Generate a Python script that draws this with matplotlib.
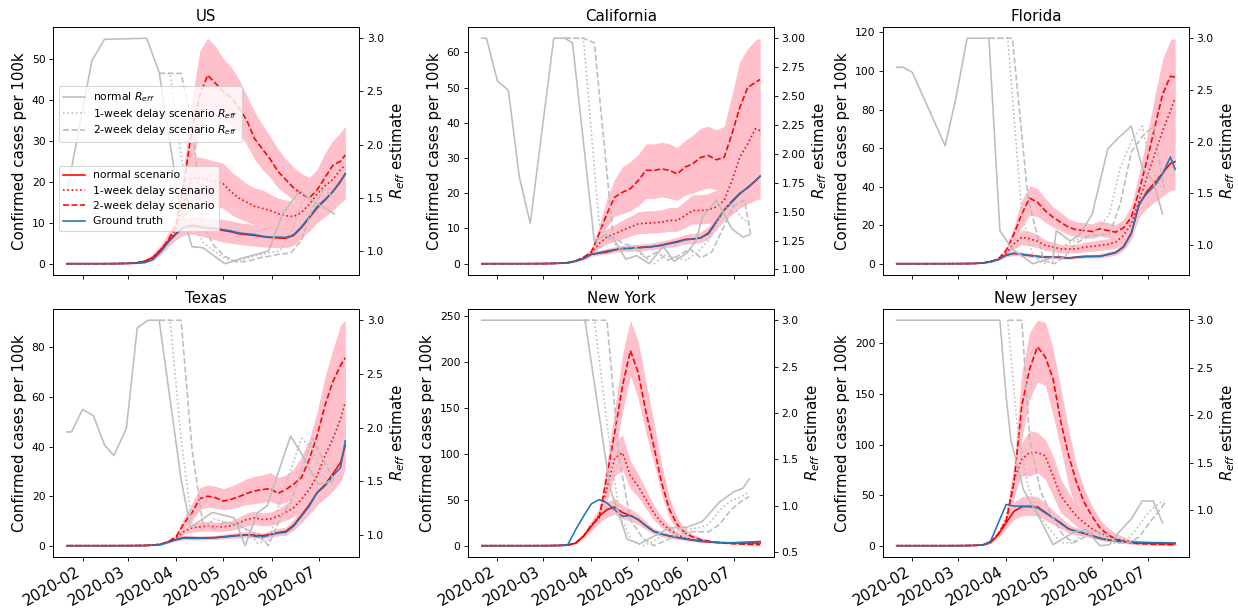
import numpy as np
import matplotlib
matplotlib.use('Agg')
import matplotlib.pyplot as plt
import matplotlib.dates as mdates

START = np.datetime64('2020-01-22')
DAYS = [0, 20, 30, 40, 45, 50, 55, 60, 65, 70, 75, 80, 85, 90, 95, 100, 105, 110,
        115, 120, 125, 130, 135, 140, 145, 150, 155, 160, 165, 170, 175, 178]

STATES = ['US', 'California', 'Florida', 'Texas', 'New York', 'New Jersey']

# ---------------- US ----------------
US_truth = [0, 0, 0.01, 0.05, 0.1, 0.3, 1.0, 2.9, 5.3, 7.3, 9.0, 9.4, 9.1, 8.8, 8.7, 8.3, 8.0, 7.5, 7.3, 7.1, 6.7, 6.5, 6.5, 6.4, 7.1, 9.0, 11.4, 13.9, 15.7, 17.5, 20.0, 22.0]
US_normal = [0, 0, 0.02, 0.1, 0.25, 0.6, 1.5, 3.4, 5.6, 7.5, 8.9, 9.2, 8.9, 8.6, 8.5, 8.1, 7.8, 7.3, 7.1, 6.9, 6.6, 6.4, 6.3, 6.2, 6.9, 8.8, 11.2, 13.6, 15.5, 17.6, 20.2, 21.9]
US_w1 = [0, 0, 0.02, 0.1, 0.25, 0.6, 1.5, 3.4, 5.7, 8.6, 15.0, 21.0, 21.0, 20.5, 20.0, 19.5, 17.5, 16.0, 15.0, 14.0, 13.5, 13.0, 12.2, 11.7, 11.5, 12.5, 14.5, 17.0, 19.0, 20.5, 23.0, 24.0]
US_w2 = [0, 0, 0.02, 0.1, 0.25, 0.6, 1.5, 3.4, 5.9, 9.5, 20.0, 33.0, 41.0, 46.0, 44.0, 42.0, 40.5, 38.0, 35.0, 30.5, 28.0, 25.5, 22.5, 20.5, 18.5, 17.0, 16.0, 18.0, 21.0, 24.0, 25.0, 26.5]
US_n_lo = [0, 0, 0, 0.05, 0.1, 0.2, 0.8, 2.3, 4.3, 5.9, 7.0, 7.2, 6.8, 6.3, 5.8, 5.3, 5.0, 4.7, 4.5, 4.3, 4.1, 4.0, 3.9, 3.9, 4.5, 6.2, 8.0, 10.0, 11.5, 13.0, 14.8, 15.8]
US_n_hi = [0, 0, 0.05, 0.15, 0.4, 1.0, 2.3, 4.6, 7.0, 9.2, 11.0, 11.6, 11.4, 11.2, 11.0, 10.8, 10.5, 10.0, 9.8, 9.5, 9.2, 9.0, 9.0, 9.0, 9.8, 12.0, 15.0, 18.0, 20.5, 23.0, 26.0, 28.0]
US_w1_lo = [0, 0, 0, 0.05, 0.1, 0.2, 0.8, 2.3, 4.3, 6.5, 11.0, 15.0, 15.0, 14.5, 14.0, 13.5, 12.0, 11.0, 10.2, 9.5, 9.2, 8.8, 8.3, 8.0, 8.0, 8.8, 10.5, 12.5, 14.0, 15.5, 17.0, 18.0]
US_w1_hi = [0, 0, 0.05, 0.15, 0.4, 1.0, 2.3, 4.6, 7.0, 10.5, 19.0, 26.0, 26.0, 25.5, 25.0, 24.5, 22.5, 21.0, 19.5, 18.5, 18.0, 17.0, 16.0, 15.5, 15.3, 16.5, 19.0, 22.0, 24.5, 26.5, 29.5, 31.0]
US_w2_lo = [0, 0, 0, 0.05, 0.1, 0.2, 0.8, 2.3, 4.3, 7.5, 15.0, 25.0, 32.0, 37.0, 36.0, 35.0, 34.0, 32.0, 29.0, 25.5, 23.0, 21.0, 18.5, 17.0, 15.5, 14.3, 13.5, 15.0, 17.5, 19.5, 20.5, 21.5]
US_w2_hi = [0, 0, 0.05, 0.15, 0.4, 1.0, 2.3, 4.6, 7.5, 12.0, 24.0, 40.0, 52.0, 55.0, 53.0, 50.0, 48.0, 45.0, 41.0, 37.0, 34.0, 31.0, 28.0, 25.5, 23.5, 22.0, 21.0, 23.0, 27.0, 30.0, 32.0, 33.5]
US_r0_day = [0, 16, 24, 51, 59, 72, 80, 87, 101, 114, 129, 138, 149, 156, 171]
US_r0 = [1.55, 2.79, 2.99, 3.0, 2.68, 1.44, 1.04, 1.03, 0.88, 0.94, 1.0, 1.35, 1.57, 1.48, 1.35]
US_r1_day = [59, 66, 73, 80, 87, 94, 101, 108, 115, 122, 129, 136, 143, 150, 157, 164, 171]
US_r1 = [2.67, 2.67, 1.9, 1.3, 1.08, 1.0, 0.93, 0.9, 0.93, 0.96, 0.98, 1.0, 1.15, 1.45, 1.56, 1.52, 1.42]
US_r2_day = [59, 73, 80, 87, 94, 101, 108, 115, 122, 129, 136, 143, 150, 157, 164, 171]
US_r2 = [2.67, 2.67, 2.2, 1.25, 1.05, 0.95, 0.9, 0.9, 0.93, 0.95, 0.97, 0.98, 1.1, 1.4, 1.58, 1.5]

# ---------------- California ----------------
CA_truth = [0, 0, 0, 0.02, 0.05, 0.1, 0.2, 0.7, 1.4, 2.6, 3.1, 3.6, 4.0, 4.3, 4.3, 4.5, 4.7, 4.9, 5.2, 5.7, 6.1, 6.8, 7.0, 7.4, 8.5, 11.8, 15.1, 17.5, 19.8, 21.7, 23.6, 24.8]
CA_normal = [0, 0, 0.01, 0.04, 0.08, 0.15, 0.3, 0.8, 1.6, 2.7, 3.0, 3.3, 3.9, 4.3, 4.4, 4.6, 4.7, 4.9, 5.3, 5.8, 6.3, 6.9, 7.0, 7.3, 8.8, 12.0, 15.3, 17.8, 20.0, 21.5, 23.5, 24.9]
CA_w1 = [0, 0, 0.01, 0.04, 0.08, 0.15, 0.3, 0.8, 1.7, 3.0, 5.7, 7.6, 8.5, 9.5, 10.4, 11.3, 11.5, 11.6, 11.8, 12.3, 12.3, 13.7, 15.1, 15.1, 15.3, 16.1, 18.0, 23.6, 30.2, 34.0, 38.3, 37.8]
CA_w2 = [0, 0, 0.01, 0.04, 0.08, 0.15, 0.3, 0.8, 1.8, 3.3, 8.5, 14.2, 18.9, 20.3, 21.3, 23.6, 26.5, 26.5, 26.9, 26.5, 25.5, 27.4, 28.4, 30.2, 30.7, 29.5, 30.2, 36.9, 44.4, 50.0, 51.5, 52.3]
CA_n_lo = [0, 0, 0, 0.01, 0.03, 0.07, 0.15, 0.5, 1.1, 2.1, 2.5, 2.8, 3.2, 3.5, 3.5, 3.7, 3.8, 4.0, 4.3, 4.7, 5.0, 5.6, 5.7, 6.0, 7.0, 9.6, 12.2, 14.0, 15.8, 17.0, 18.0, 18.5]
CA_n_hi = [0, 0, 0.02, 0.06, 0.12, 0.2, 0.4, 1.0, 1.9, 3.2, 3.8, 4.3, 4.8, 5.2, 5.3, 5.5, 5.7, 6.0, 6.4, 7.0, 7.5, 8.3, 8.6, 9.0, 10.6, 14.2, 18.5, 21.5, 24.5, 27.0, 30.0, 32.0]
CA_w1_lo = [0, 0, 0, 0.01, 0.03, 0.07, 0.15, 0.5, 1.1, 2.3, 4.3, 5.7, 6.4, 7.1, 7.8, 8.5, 8.6, 8.7, 8.9, 9.2, 9.2, 10.3, 11.3, 11.3, 11.5, 12.1, 13.5, 17.7, 22.6, 25.5, 28.7, 28.4]
CA_w1_hi = [0, 0, 0.02, 0.06, 0.12, 0.2, 0.4, 1.0, 1.9, 3.8, 7.4, 9.9, 11.1, 12.4, 13.5, 14.7, 15.0, 15.1, 15.3, 16.0, 16.0, 17.8, 19.6, 19.6, 19.9, 20.9, 23.4, 30.7, 39.3, 44.2, 49.8, 49.1]
CA_w2_lo = [0, 0, 0, 0.01, 0.03, 0.07, 0.15, 0.5, 1.1, 2.5, 6.4, 10.4, 13.5, 14.2, 15.0, 16.5, 18.5, 18.5, 19.0, 18.5, 18.0, 19.5, 20.0, 21.0, 21.5, 21.0, 21.5, 26.0, 31.0, 35.0, 36.0, 36.5]
CA_w2_hi = [0, 0, 0.02, 0.06, 0.12, 0.2, 0.4, 1.0, 1.9, 4.2, 10.6, 18.5, 24.0, 27.5, 29.0, 31.0, 34.0, 34.0, 34.5, 34.0, 33.0, 35.0, 36.5, 38.5, 39.0, 38.0, 39.0, 48.0, 57.5, 61.0, 63.5, 64.0]
CA_r0_day = [0, 3, 10, 17, 24, 31, 46, 53, 58, 72, 79, 85, 92, 99, 107, 116, 123, 131, 137, 141, 150, 160, 167, 171]
CA_r0 = [3.0, 3.0, 2.63, 2.55, 1.80, 1.40, 3.0, 3.0, 2.96, 1.24, 1.30, 1.25, 1.09, 1.12, 1.05, 1.2, 1.07, 1.14, 1.25, 1.45, 1.6, 1.35, 1.28, 1.3]
CA_r1_day = [53, 65, 75, 82, 89, 96, 103, 110, 117, 124, 131, 138, 145, 152, 159, 166, 171]
CA_r1 = [3.0, 3.0, 1.4, 1.25, 1.18, 1.2, 1.12, 1.05, 1.12, 1.1, 1.08, 1.15, 1.25, 1.45, 1.58, 1.45, 1.4]
CA_r2_day = [53, 65, 72, 84, 91, 98, 105, 112, 119, 126, 133, 140, 147, 154, 161, 168, 172]
CA_r2 = [3.0, 3.0, 2.96, 1.28, 1.22, 1.2, 1.1, 1.15, 1.08, 1.12, 1.18, 1.1, 1.15, 1.35, 1.55, 1.6, 1.3]

# ---------------- Florida ----------------
FL_truth = [0, 0, 0, 0.02, 0.05, 0.1, 0.3, 0.9, 2.1, 4.3, 5.5, 4.8, 4.3, 3.8, 3.4, 3.4, 3.3, 2.9, 3.4, 3.8, 3.8, 3.8, 4.8, 5.7, 8.6, 15.5, 31.0, 36.5, 40.5, 46.5, 55.4, 49.0]
FL_normal = [0, 0, 0.01, 0.04, 0.08, 0.15, 0.4, 1.1, 2.3, 4.5, 5.3, 4.8, 4.3, 3.8, 3.5, 3.4, 3.3, 3.0, 3.4, 3.7, 3.8, 3.9, 4.8, 5.8, 8.8, 16.0, 30.5, 37.5, 42.0, 47.0, 52.0, 53.0]
FL_w1 = [0, 0, 0.01, 0.04, 0.08, 0.15, 0.4, 1.1, 2.4, 5.5, 10.3, 13.8, 12.9, 11.7, 9.5, 8.6, 7.7, 7.7, 7.7, 8.6, 9.0, 9.5, 10.0, 11.2, 14.6, 20.7, 32.7, 44.8, 56.8, 68.9, 79.2, 86.1]
FL_w2 = [0, 0, 0.01, 0.04, 0.08, 0.15, 0.4, 1.1, 2.5, 6.9, 15.5, 25.8, 34.0, 31.9, 27.5, 24.1, 21.5, 18.9, 17.6, 17.2, 16.7, 18.1, 17.2, 16.4, 18.6, 24.1, 37.9, 53.4, 70.6, 87.8, 97.3, 96.8]
FL_n_lo = [0, 0, 0, 0.01, 0.03, 0.07, 0.2, 0.7, 1.7, 3.5, 4.3, 3.8, 3.4, 3.0, 2.7, 2.6, 2.5, 2.3, 2.6, 2.9, 2.9, 3.0, 3.7, 4.5, 6.8, 12.5, 24.0, 29.0, 32.0, 35.0, 38.0, 38.5]
FL_n_hi = [0, 0, 0.02, 0.06, 0.12, 0.2, 0.5, 1.4, 2.9, 5.6, 6.6, 6.0, 5.4, 4.8, 4.4, 4.3, 4.2, 3.9, 4.3, 4.8, 4.9, 5.0, 6.2, 7.4, 11.0, 20.0, 38.0, 47.0, 53.0, 60.0, 67.0, 70.0]
FL_w1_lo = [0, 0, 0, 0.01, 0.03, 0.07, 0.2, 0.7, 1.7, 4.3, 7.8, 10.0, 9.3, 8.4, 6.9, 6.2, 5.6, 5.6, 5.6, 6.2, 6.5, 6.9, 7.2, 8.1, 10.5, 15.0, 24.0, 33.0, 42.0, 51.0, 58.5, 64.0]
FL_w1_hi = [0, 0, 0.02, 0.06, 0.12, 0.2, 0.5, 1.4, 2.9, 6.8, 13.0, 17.6, 16.8, 15.2, 12.4, 11.2, 10.0, 10.0, 10.0, 11.2, 11.7, 12.4, 13.0, 14.6, 19.0, 27.0, 42.5, 58.0, 74.0, 89.0, 102.0, 110.0]
FL_w2_lo = [0, 0, 0, 0.01, 0.03, 0.07, 0.2, 0.7, 1.7, 5.5, 12.0, 19.0, 25.0, 24.5, 21.5, 19.0, 17.0, 15.0, 14.0, 13.6, 13.2, 14.3, 13.6, 13.0, 14.8, 19.0, 30.0, 42.0, 55.0, 68.0, 76.0, 76.0]
FL_w2_hi = [0, 0, 0.02, 0.06, 0.12, 0.2, 0.5, 1.4, 2.9, 8.5, 19.5, 33.0, 40.5, 39.0, 34.0, 29.5, 26.5, 23.3, 21.8, 21.3, 20.7, 22.4, 21.3, 20.3, 23.0, 30.0, 47.0, 66.0, 87.0, 106.0, 116.0, 117.0]
FL_r0_day = [0, 4, 10, 31, 38, 45, 59, 66, 74, 87, 100, 102, 111, 117, 125, 135, 142, 150, 157, 164, 170]
FL_r0 = [2.72, 2.72, 2.67, 1.96, 2.43, 3.0, 3.0, 1.14, 0.96, 0.82, 0.88, 1.14, 1.04, 1.1, 1.3, 1.93, 2.04, 2.15, 1.75, 1.62, 1.3]
FL_r1_day = [59, 71, 80, 87, 94, 101, 108, 115, 122, 129, 136, 143, 150, 157, 164, 171]
FL_r1 = [3.0, 3.0, 1.3, 0.9, 0.82, 0.85, 1.0, 1.05, 1.08, 1.15, 1.3, 1.75, 2.0, 2.15, 1.7, 1.5]
FL_r2_day = [59, 74, 84, 94, 101, 108, 115, 122, 129, 136, 143, 150, 157, 164, 171]
FL_r2 = [3.0, 3.0, 1.45, 0.85, 0.82, 0.9, 1.02, 1.08, 1.1, 1.1, 1.4, 1.9, 2.05, 2.15, 1.55]

# ---------------- Texas ----------------
TX_truth = [0, 0, 0, 0.01, 0.03, 0.05, 0.15, 0.4, 1.4, 2.4, 3.1, 3.0, 3.0, 3.1, 3.2, 3.5, 3.8, 4.1, 4.3, 3.8, 3.5, 4.3, 5.1, 5.4, 7.9, 11.9, 16.0, 21.4, 24.1, 28.2, 31.5, 42.4]
TX_normal = [0, 0, 0.01, 0.03, 0.06, 0.1, 0.25, 0.6, 1.6, 2.6, 3.3, 3.2, 3.1, 3.2, 3.3, 3.6, 3.9, 4.2, 4.4, 4.3, 4.0, 4.6, 5.3, 5.8, 8.3, 12.3, 16.5, 21.5, 24.5, 29.0, 33.5, 40.5]
TX_w1 = [0, 0, 0.01, 0.03, 0.06, 0.1, 0.25, 0.6, 1.6, 3.3, 5.8, 7.2, 7.6, 7.9, 7.6, 7.6, 8.1, 9.2, 10.6, 11.2, 10.6, 10.8, 11.9, 13.5, 15.3, 18.7, 22.7, 28.2, 36.3, 43.0, 51.2, 57.9]
TX_w2 = [0, 0, 0.01, 0.03, 0.06, 0.1, 0.25, 0.6, 1.7, 3.8, 9.2, 13.3, 19.0, 20.0, 19.4, 18.0, 18.7, 19.8, 21.1, 22.1, 22.7, 23.0, 21.1, 22.7, 24.8, 27.5, 34.9, 44.4, 56.6, 66.1, 72.8, 75.8]
TX_n_lo = [0, 0, 0, 0.01, 0.02, 0.04, 0.1, 0.3, 1.1, 1.9, 2.4, 2.3, 2.3, 2.4, 2.5, 2.7, 2.9, 3.1, 3.3, 3.1, 2.9, 3.4, 4.0, 4.3, 6.2, 9.4, 12.6, 16.5, 19.0, 22.0, 26.0, 31.0]
TX_n_hi = [0, 0, 0.02, 0.05, 0.1, 0.15, 0.35, 0.9, 2.1, 3.3, 4.2, 4.1, 4.0, 4.1, 4.2, 4.6, 5.0, 5.4, 5.7, 5.6, 5.2, 6.0, 6.9, 7.5, 10.6, 15.5, 21.0, 27.0, 31.5, 37.0, 42.0, 50.0]
TX_w1_lo = [0, 0, 0, 0.01, 0.02, 0.04, 0.1, 0.3, 1.1, 2.6, 4.6, 5.5, 5.8, 6.0, 5.8, 5.8, 6.2, 7.0, 8.0, 8.5, 8.0, 8.2, 9.0, 10.3, 11.6, 14.2, 17.2, 21.4, 27.6, 32.7, 38.9, 44.0]
TX_w1_hi = [0, 0, 0.02, 0.05, 0.1, 0.15, 0.35, 0.9, 2.1, 4.0, 7.2, 9.0, 9.5, 9.9, 9.5, 9.5, 10.1, 11.5, 13.2, 14.0, 13.2, 13.5, 14.9, 16.9, 19.1, 23.4, 28.4, 35.3, 45.4, 53.8, 64.0, 72.4]
TX_w2_lo = [0, 0, 0, 0.01, 0.02, 0.04, 0.1, 0.3, 1.1, 3.0, 7.0, 10.0, 14.5, 15.5, 15.2, 14.5, 15.0, 15.8, 16.5, 17.0, 17.5, 18.0, 16.5, 17.5, 19.0, 21.0, 26.5, 34.0, 43.0, 50.0, 55.5, 58.0]
TX_w2_hi = [0, 0, 0.02, 0.05, 0.1, 0.15, 0.35, 0.9, 2.1, 4.8, 11.5, 17.0, 23.5, 24.5, 24.0, 23.0, 24.0, 25.5, 27.0, 28.0, 28.5, 29.5, 27.5, 28.5, 31.0, 36.0, 43.0, 54.0, 68.0, 79.0, 89.0, 91.0]
TX_r0_day = [0, 3, 10, 17, 24, 30, 38, 45, 52, 59, 73, 79, 93, 107, 114, 122, 128, 143, 150, 156, 161, 170]
TX_r0 = [1.96, 1.96, 2.17, 2.11, 1.84, 1.74, 1.99, 2.93, 3.0, 3.0, 1.52, 1.07, 1.21, 1.16, 0.9, 1.21, 1.27, 1.92, 1.76, 1.59, 1.47, 1.5]
TX_r1_day = [59, 66, 73, 80, 87, 94, 101, 108, 115, 122, 129, 136, 143, 150, 157, 164, 171]
TX_r1 = [3.0, 3.0, 1.9, 1.1, 1.05, 1.15, 1.12, 1.1, 1.05, 0.92, 0.95, 1.3, 1.6, 1.9, 1.8, 1.55, 1.45]
TX_r2_day = [59, 73, 80, 87, 94, 101, 108, 115, 122, 129, 136, 143, 150, 157, 164, 171]
TX_r2 = [3.0, 3.0, 1.8, 1.1, 1.05, 1.12, 1.1, 1.05, 1.0, 0.9, 1.15, 1.3, 1.6, 1.9, 1.7, 1.5]

# ---------------- New York ----------------
NY_truth = [0, 0, 0, 0.02, 0.05, 0.2, 1.1, 17.4, 32.0, 45.4, 50.1, 46.5, 39.0, 32.0, 32.7, 28.3, 21.8, 15.6, 12.7, 10.9, 9.1, 7.6, 6.2, 5.1, 4.4, 3.6, 3.3, 3.3, 3.6, 4.0, 4.4, 4.7]
NY_normal = [0, 0, 0.01, 0.05, 0.15, 0.3, 0.6, 2.9, 10.2, 21.0, 32.0, 39.2, 42.0, 36.0, 33.0, 28.5, 21.5, 15.5, 12.5, 10.5, 8.8, 7.3, 6.0, 4.9, 4.2, 3.5, 3.1, 3.0, 3.0, 3.0, 3.0, 3.0]
NY_w1 = [0, 0, 0.01, 0.05, 0.15, 0.3, 0.6, 2.9, 10.3, 22.0, 33.0, 62.0, 95.0, 101.0, 76.0, 64.7, 50.0, 35.6, 24.7, 17.4, 12.0, 8.4, 6.5, 4.7, 4.0, 3.6, 3.3, 2.9, 2.5, 2.2, 2.2, 2.2]
NY_w2 = [0, 0, 0.01, 0.05, 0.15, 0.3, 0.6, 2.9, 10.4, 22.0, 30.0, 75.6, 123.0, 174.0, 212.0, 188.0, 145.0, 108.0, 68.3, 39.2, 22.9, 13.8, 9.4, 6.5, 5.1, 3.6, 2.9, 2.2, 1.8, 1.5, 1.1, 1.1]
NY_n_lo = [0, 0, 0, 0.03, 0.1, 0.2, 0.4, 2.0, 7.5, 16.0, 25.0, 31.0, 34.0, 29.0, 27.0, 23.0, 17.5, 12.5, 10.0, 8.4, 7.0, 5.8, 4.8, 3.9, 3.3, 2.8, 2.4, 2.3, 2.3, 2.3, 2.3, 2.3]
NY_n_hi = [0, 0, 0.02, 0.07, 0.2, 0.4, 0.8, 3.8, 13.0, 26.5, 40.0, 48.0, 51.0, 44.0, 40.0, 34.5, 26.0, 19.0, 15.0, 12.7, 10.6, 8.8, 7.2, 5.9, 5.1, 4.2, 3.8, 3.7, 3.7, 3.7, 3.7, 3.7]
NY_w1_lo = [0, 0, 0, 0.03, 0.1, 0.2, 0.4, 2.0, 7.5, 17.0, 27.0, 48.0, 76.0, 82.0, 62.0, 53.0, 40.0, 28.0, 19.5, 13.5, 9.4, 6.6, 5.1, 3.7, 3.1, 2.8, 2.6, 2.3, 2.0, 1.7, 1.7, 1.7]
NY_w1_hi = [0, 0, 0.02, 0.07, 0.2, 0.4, 0.8, 3.8, 13.0, 27.0, 40.0, 76.0, 115.0, 120.0, 92.0, 78.0, 61.0, 44.0, 31.0, 22.0, 15.0, 10.5, 8.0, 5.9, 5.0, 4.5, 4.1, 3.6, 3.1, 2.8, 2.8, 2.8]
NY_w2_lo = [0, 0, 0, 0.03, 0.1, 0.2, 0.4, 2.0, 7.5, 16.0, 26.0, 62.0, 100.0, 145.0, 185.0, 160.0, 122.0, 90.0, 55.0, 30.0, 17.0, 10.5, 7.2, 5.0, 3.9, 2.8, 2.2, 1.7, 1.4, 1.1, 0.8, 0.8]
NY_w2_hi = [0, 0, 0.02, 0.07, 0.2, 0.4, 0.8, 3.8, 13.0, 23.0, 38.0, 90.0, 148.0, 208.0, 245.0, 222.0, 178.0, 135.0, 88.0, 52.0, 30.0, 18.5, 12.5, 8.5, 6.6, 4.7, 3.8, 2.9, 2.4, 2.0, 1.5, 1.5]
NY_r0_day = [0, 66, 82, 93, 101, 112, 120, 131, 141, 152, 161, 167, 171]
NY_r0 = [3.0, 3.0, 1.19, 0.64, 0.59, 0.69, 0.76, 0.77, 0.83, 1.04, 1.15, 1.19, 1.29]
NY_r1_day = [65, 72, 80, 88, 96, 103, 110, 117, 124, 131, 138, 145, 152, 159, 166, 171]
NY_r1 = [3.0, 3.0, 1.9, 0.9, 0.62, 0.57, 0.62, 0.7, 0.74, 0.75, 0.76, 0.8, 0.95, 1.05, 1.1, 1.15]
NY_r2_day = [65, 80, 88, 95, 103, 110, 117, 124, 131, 138, 145, 152, 159, 166, 171]
NY_r2 = [3.0, 3.0, 1.5, 0.85, 0.65, 0.57, 0.62, 0.68, 0.72, 0.72, 0.72, 0.8, 0.95, 1.05, 1.1]

# ---------------- New Jersey ----------------
NJ_truth = [0, 0, 0, 0.02, 0.05, 0.2, 0.8, 4.3, 22.6, 40.8, 39.1, 39.1, 38.5, 37.5, 32.5, 27.5, 22.6, 16.6, 14.3, 12.6, 10.0, 7.6, 6.0, 5.3, 4.3, 3.6, 3.3, 3.3, 3.0, 3.0, 2.7, 2.7]
NJ_normal = [0, 0, 0.01, 0.05, 0.15, 0.3, 0.6, 3.3, 11.0, 22.6, 34.0, 38.5, 39.1, 38.5, 33.0, 27.5, 22.0, 16.5, 14.0, 12.0, 9.5, 7.2, 5.5, 4.8, 3.8, 3.2, 2.8, 2.5, 2.3, 2.2, 2.0, 2.0]
NJ_w1 = [0, 0, 0.01, 0.05, 0.15, 0.3, 0.6, 3.3, 11.5, 26.0, 65.0, 85.6, 92.2, 92.2, 88.9, 69.0, 49.0, 39.0, 29.0, 22.6, 16.6, 12.6, 9.3, 6.6, 5.3, 4.0, 3.3, 2.7, 2.3, 2.0, 2.0, 2.0]
NJ_w2 = [0, 0, 0.01, 0.05, 0.15, 0.3, 0.6, 3.3, 12.0, 24.0, 62.0, 138.6, 175.0, 196.7, 186.7, 165.0, 122.0, 89.0, 62.4, 42.5, 29.0, 17.6, 11.0, 6.6, 4.3, 2.7, 2.0, 1.7, 1.3, 1.3, 1.0, 1.0]
NJ_n_lo = [0, 0, 0, 0.03, 0.1, 0.2, 0.4, 2.3, 8.0, 17.0, 26.0, 29.5, 30.0, 29.5, 25.5, 21.0, 16.8, 12.6, 10.7, 9.2, 7.2, 5.5, 4.2, 3.6, 2.9, 2.4, 2.1, 1.9, 1.7, 1.6, 1.5, 1.5]
NJ_n_hi = [0, 0, 0.02, 0.07, 0.2, 0.4, 0.8, 4.3, 14.0, 28.5, 43.0, 48.5, 49.5, 48.5, 42.0, 35.0, 28.0, 21.0, 17.8, 15.3, 12.1, 9.2, 7.0, 6.1, 4.8, 4.1, 3.6, 3.2, 2.9, 2.8, 2.6, 2.6]
NJ_w1_lo = [0, 0, 0, 0.03, 0.1, 0.2, 0.4, 2.3, 8.0, 20.0, 50.0, 69.0, 69.0, 72.0, 65.7, 49.0, 32.5, 26.0, 19.2, 14.3, 10.5, 7.6, 5.8, 4.3, 3.4, 2.7, 2.2, 1.8, 1.5, 1.3, 1.3, 1.3]
NJ_w1_hi = [0, 0, 0.02, 0.07, 0.2, 0.4, 0.8, 4.3, 14.0, 32.0, 80.0, 102.0, 114.0, 112.0, 105.0, 89.0, 65.7, 52.4, 39.0, 29.0, 22.6, 17.6, 12.8, 9.3, 7.5, 6.0, 4.8, 4.0, 3.5, 3.3, 3.3, 3.3]
NJ_w2_lo = [0, 0, 0, 0.03, 0.1, 0.2, 0.4, 2.3, 8.0, 18.0, 45.0, 105.0, 145.0, 162.0, 159.0, 129.0, 95.5, 59.0, 35.8, 19.2, 12.6, 7.6, 5.0, 3.3, 2.2, 1.4, 1.0, 0.8, 0.6, 0.5, 0.4, 0.4]
NJ_w2_hi = [0, 0, 0.02, 0.07, 0.2, 0.4, 0.8, 4.3, 14.0, 30.0, 80.0, 172.0, 211.0, 223.0, 221.0, 195.0, 155.0, 115.0, 79.0, 56.0, 39.0, 26.0, 17.6, 12.6, 8.8, 6.0, 4.5, 3.6, 3.0, 2.8, 2.7, 2.7]
NJ_r0_day = [0, 66, 70, 73, 81, 92, 100, 113, 121, 130, 136, 142, 150, 157, 164, 170]
NJ_r0 = [3.0, 3.0, 2.2, 1.74, 1.22, 0.9, 0.64, 0.77, 0.8, 0.63, 0.64, 0.77, 0.91, 1.1, 1.1, 0.87]
NJ_r1_day = [71, 77, 84, 91, 98, 105, 112, 119, 126, 133, 140, 147, 154, 161, 168, 171]
NJ_r1 = [3.0, 1.9, 1.25, 0.95, 0.8, 0.66, 0.66, 0.75, 0.8, 0.7, 0.65, 0.68, 0.82, 0.98, 1.08, 1.1]
NJ_r2_day = [71, 80, 85, 92, 99, 106, 113, 120, 127, 134, 141, 148, 155, 162, 169, 172]
NJ_r2 = [3.0, 3.0, 1.75, 1.2, 0.95, 0.75, 0.66, 0.72, 0.78, 0.75, 0.66, 0.66, 0.72, 0.88, 1.02, 1.1]

PANELS = [
    (US_truth, US_normal, US_w1, US_w2, US_n_lo, US_n_hi, US_w1_lo, US_w1_hi, US_w2_lo, US_w2_hi,
     US_r0_day, US_r0, US_r1_day, US_r1, US_r2_day, US_r2),
    (CA_truth, CA_normal, CA_w1, CA_w2, CA_n_lo, CA_n_hi, CA_w1_lo, CA_w1_hi, CA_w2_lo, CA_w2_hi,
     CA_r0_day, CA_r0, CA_r1_day, CA_r1, CA_r2_day, CA_r2),
    (FL_truth, FL_normal, FL_w1, FL_w2, FL_n_lo, FL_n_hi, FL_w1_lo, FL_w1_hi, FL_w2_lo, FL_w2_hi,
     FL_r0_day, FL_r0, FL_r1_day, FL_r1, FL_r2_day, FL_r2),
    (TX_truth, TX_normal, TX_w1, TX_w2, TX_n_lo, TX_n_hi, TX_w1_lo, TX_w1_hi, TX_w2_lo, TX_w2_hi,
     TX_r0_day, TX_r0, TX_r1_day, TX_r1, TX_r2_day, TX_r2),
    (NY_truth, NY_normal, NY_w1, NY_w2, NY_n_lo, NY_n_hi, NY_w1_lo, NY_w1_hi, NY_w2_lo, NY_w2_hi,
     NY_r0_day, NY_r0, NY_r1_day, NY_r1, NY_r2_day, NY_r2),
    (NJ_truth, NJ_normal, NJ_w1, NJ_w2, NJ_n_lo, NJ_n_hi, NJ_w1_lo, NJ_w1_hi, NJ_w2_lo, NJ_w2_hi,
     NJ_r0_day, NJ_r0, NJ_r1_day, NJ_r1, NJ_r2_day, NJ_r2),
]


def to_dates(days):
    return START + np.array(days, dtype='timedelta64[D]')


DPI = 77.375
fig, axes = plt.subplots(2, 3, figsize=(1238 / DPI, 613 / DPI), dpi=DPI, sharex=True)
fig.subplots_adjust(left=0.0428, right=0.9604, top=0.956, bottom=0.0914,
                    wspace=0.355, hspace=0.137)

dates = to_dates(DAYS)
GRAY = '#bdbdbd'
PINK = 'pink'

for k, (ax, name, p) in enumerate(zip(axes.flat, STATES, PANELS)):
    (truth, normal, w1, w2, n_lo, n_hi, w1_lo, w1_hi, w2_lo, w2_hi,
     r0d, r0, r1d, r1, r2d, r2) = p
    ax.fill_between(dates, w2_lo, w2_hi, color=PINK, lw=0)
    ax.fill_between(dates, w1_lo, w1_hi, color=PINK, lw=0)
    ax.fill_between(dates, n_lo, n_hi, color=PINK, lw=0)
    l2, = ax.plot(dates, w2, color='red', ls='--', lw=1.5, label='2-week delay scenario')
    l1, = ax.plot(dates, w1, color='red', ls=':', lw=1.5, label='1-week delay scenario')
    l0, = ax.plot(dates, normal, color='red', ls='-', lw=1.5, label='normal scenario')
    lt, = ax.plot(dates, truth, color='#1f77b4', lw=1.5, label='Ground truth')
    ax.set_title(name, fontsize=14)
    ax.set_ylabel('Confirmed cases per 100k', fontsize=14)
    ax.tick_params(labelsize=10)

    ax2 = ax.twinx()
    g0, = ax2.plot(to_dates(r0d), r0, color=GRAY, ls='-', lw=1.5, label='normal $R_{eff}$')
    g1, = ax2.plot(to_dates(r1d), r1, color=GRAY, ls=':', lw=1.5,
                   label='1-week delay scenario $R_{eff}$')
    g2, = ax2.plot(to_dates(r2d), r2, color=GRAY, ls='--', lw=1.5,
                   label='2-week delay scenario $R_{eff}$')
    ax2.set_ylabel('$R_{eff}$ estimate', fontsize=14)
    ax2.tick_params(labelsize=10)

    if k == 0:
        leg1 = ax2.legend(handles=[g0, g1, g2], loc='upper left',
                          bbox_to_anchor=(0.0195, 0.762), borderaxespad=0, fontsize=10,
                          labelspacing=0.25)
        ax2.add_artist(leg1)
        ax2.legend(handles=[l0, l1, l2, lt], loc='upper left',
                   bbox_to_anchor=(0.0195, 0.4395), borderaxespad=0, fontsize=10)

for ax in axes.flat:
    ax.xaxis.set_major_locator(mdates.MonthLocator())
    ax.xaxis.set_major_formatter(mdates.DateFormatter('%Y-%m'))

for ax in axes[1]:
    for lab in ax.get_xticklabels():
        lab.set_rotation(30)
        lab.set_ha('right')
        lab.set_fontsize(14)

fig.savefig('out.png', dpi=DPI)
